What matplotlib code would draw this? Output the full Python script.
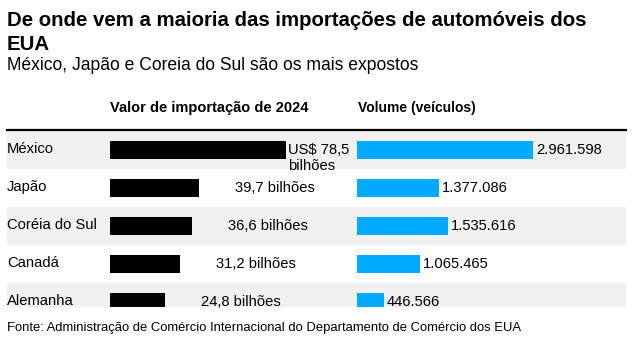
import matplotlib.pyplot as plt
from matplotlib.lines import Line2D

# dados
paises = ['México', 'Japão', 'Coréia do Sul', 'Canadá', 'Alemanha']
valor = [78.5, 39.7, 36.6, 31.2, 24.8]          # US$ bilhões, 2024
volume = [2961598, 1377086, 1535616, 1065465, 446566]  # veículos
rotulos_valor = ['US$ 78,5\nbilhões', '39,7 bilhões', '36,6 bilhões',
                 '31,2 bilhões', '24,8 bilhões']
rotulos_volume = ['2.961.598', '1.377.086', '1.535.616', '1.065.465', '446.566']

W, H = 634, 341
fig = plt.figure(figsize=(W / 100, H / 100), dpi=100)
plt.rcParams['font.family'] = 'Liberation Sans'

def caixa(x0, y0, x1, y1):
    # pixels (origem no topo) -> coordenadas da figura
    return [x0 / W, 1 - y1 / H, (x1 - x0) / W, (y1 - y0) / H]

renderer = fig.canvas.get_renderer()

def ajusta(t, largura):
    # ajusta o tamanho da fonte para a largura (px) medida na referencia
    w = t.get_window_extent(renderer).width
    t.set_fontsize(t.get_fontsize() * largura / w)

azul = '#00AAFF'
cinza = '#F0F0F0'

# titulo e subtitulo
t = fig.text(7 / W, 1 - 20 / H, 'De onde vem a maioria das importações de automóveis dos',
             ha='left', va='center', fontsize=14, fontweight='bold')
ajusta(t, 581)
fig.text(7 / W, 1 - 44 / H, 'EUA', ha='left', va='center',
         fontsize=t.get_fontsize(), fontweight='bold')
t = fig.text(7 / W, 1 - 65 / H, 'México, Japão e Coreia do Sul são os mais expostos',
             ha='left', va='center', fontsize=12)
ajusta(t, 414)

# cabecalhos das colunas
t = fig.text(110 / W, 1 - 108 / H, 'Valor de importação de 2024', ha='left', va='center',
             fontsize=10, fontweight='bold')
ajusta(t, 197)
t = fig.text(358 / W, 1 - 108 / H, 'Volume (veículos)', ha='left', va='center',
             fontsize=10, fontweight='bold')
ajusta(t, 118)
fig.add_artist(Line2D([7 / W, 626 / W], [1 - 129.5 / H] * 2, color='black', lw=1.6))

linha = 38.0
topo, fundo = 131, 307
ymax = (fundo - topo) / linha
y = [i + 0.5 for i in range(len(paises))]

# fundo com faixas cinza
bg = fig.add_axes(caixa(7, topo, 626, fundo))
bg.set_xlim(0, 1)
bg.set_ylim(ymax, 0)
for i in range(0, len(paises), 2):
    bg.axhspan(i, i + 1, color=cinza, lw=0)
for yi, p in zip(y, paises):
    t = bg.text(0, yi - 0.03, p, ha='left', va='center', fontsize=10)
    if p == 'Coréia do Sul':
        ajusta(t, 90)
        tam = t.get_fontsize()
for txt in bg.texts:
    txt.set_fontsize(tam)
bg.axis('off')

# valor de importacao
escala = 175.5 / 78.5   # px por bilhao
ax1 = fig.add_axes(caixa(110, topo, 350, fundo))
ax1.barh(y, valor, height=18 / linha, color='black')
ax1.set_xlim(0, 240 / escala)
ax1.set_ylim(ymax, 0)
for i, (v, r) in enumerate(zip(valor, rotulos_valor)):
    if i == 0:
        ax1.annotate(r, (v, y[i]), xytext=(3, 7), textcoords='offset pixels',
                     ha='left', va='top', fontsize=tam,
                     linespacing=1.15, annotation_clip=False)
    else:
        ax1.annotate(r, (v, y[i]), xytext=(36, 0), textcoords='offset pixels',
                     ha='left', va='center', fontsize=tam,
                     annotation_clip=False)
ax1.axis('off')

# volume
escala2 = 176 / 2961598
ax2 = fig.add_axes(caixa(357, topo, 626, fundo))
ax2.barh(y, volume, height=18 / linha, color=azul)
ax2.set_xlim(0, 269 / escala2)
ax2.set_ylim(ymax, 0)
for yi, v, r in zip(y, volume, rotulos_volume):
    ax2.annotate(r, (v, yi), xytext=(3, 0), textcoords='offset pixels',
                 ha='left', va='center', fontsize=tam,
                 annotation_clip=False)
ax2.axis('off')

# fonte
t = fig.text(7 / W, 1 - 328 / H,
             'Fonte: Administração de Comércio Internacional do Departamento de Comércio dos EUA',
             ha='left', va='center', fontsize=9)
ajusta(t, 514)

fig.savefig('out.png', dpi=100)
